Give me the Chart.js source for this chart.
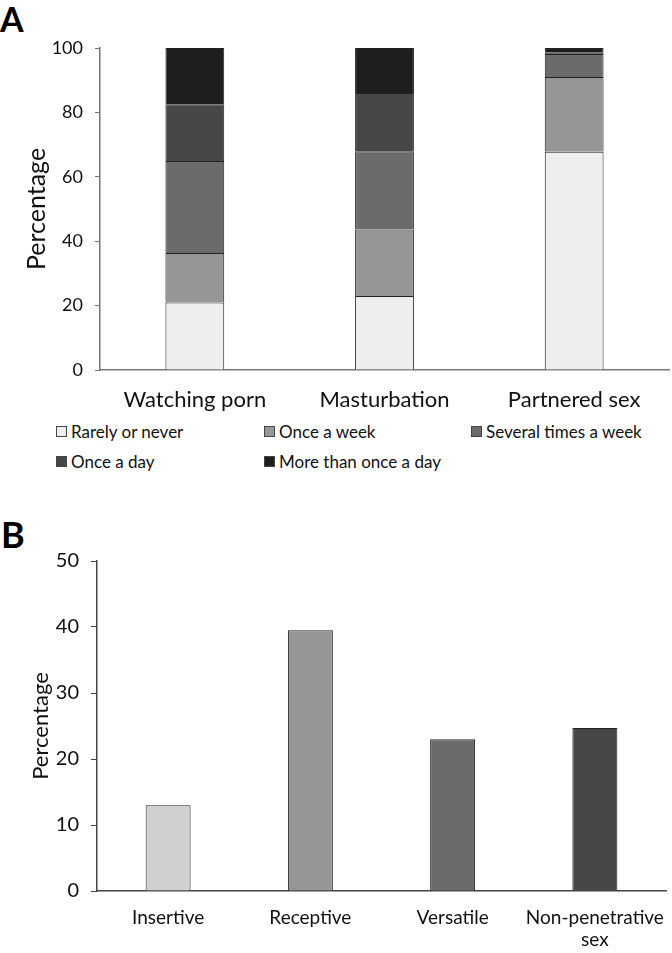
<!DOCTYPE html>
<html>
<head>
<meta charset="utf-8">
<script src="https://cdn.jsdelivr.net/npm/chart.js@4.4.0/dist/chart.umd.min.js"></script>
<style>
  body { margin:0; background:#fff; font-family: Lato, sans-serif; }
  #wrap { position:relative; width:672px; height:953px; }
  .panel { position:absolute; font-weight:bold; color:#000; line-height:1; }
  canvas { position:absolute; left:0; }
  #legendA .leg { position:absolute; font-size:17px; color:#111; display:flex; align-items:center; line-height:1; }
  #legendA .sw { display:inline-block; width:11px; height:11px; border:1px solid #444; margin-right:4px; box-sizing:border-box; }
</style>
</head>
<body>
<div id="wrap">
  <div class="panel" style="left:0;top:2px;font-size:34px;">A</div>
  <canvas id="chartA" width="672" height="420" style="top:0"></canvas>
  <div id="legendA"></div>
  <div class="panel" style="left:1px;top:516px;font-size:36px;">B</div>
  <canvas id="chartB" width="672" height="453" style="top:500px"></canvas>
</div>
<script>
// panel A - frequency of activities (percent)
const activities = ["Watching porn", "Masturbation", "Partnered sex"];
const freqLabels = ["Rarely or never", "Once a week", "Several times a week", "Once a day", "More than once a day"];
const rarely      = [21.0, 23.0, 67.8];
const onceWeek    = [15.3, 20.6, 23.2];
const severalWeek = [28.6, 24.3, 7.1];
const onceDay     = [17.6, 18.1, 0.6];
const moreDay     = [17.5, 14.0, 1.3];
const freqColors  = ["#eeeeee", "#969696", "#6b6b6b", "#474747", "#1e1e1e"];

// panel B - sexual role (percent)
const roles = ["Insertive", "Receptive", "Versatile", ["Non-penetrative", "sex"]];
const rolePct = [13.0, 39.5, 23.0, 24.7];
const roleColors = ["#d0d0d0", "#969696", "#6b6b6b", "#474747"];

Chart.defaults.font.family = "Lato, sans-serif";
Chart.defaults.color = "#111";
Chart.defaults.animation = false;

const seriesA = [rarely, onceWeek, severalWeek, onceDay, moreDay];

// keep the x scale from shrinking the plot for its outer labels
function fixX(h) {
  return s => { s.height = h; s.paddingLeft = 0; s.paddingRight = 0; };
}

const chartA = new Chart(document.getElementById("chartA"), {
  type: "bar",
  data: {
    labels: activities,
    datasets: seriesA.map((d, i) => ({
      label: freqLabels[i],
      data: d,
      backgroundColor: freqColors[i],
      borderColor: "#222",
      borderWidth: { top: 1, left: 1, right: 1, bottom: 0 },
      borderSkipped: false,
      barPercentage: 0.31,
      categoryPercentage: 1,
    })),
  },
  options: {
    responsive: false,
    devicePixelRatio: 1,
    layout: { padding: { top: 48, right: 3, left: 0, bottom: 0 } },
    plugins: { legend: { display: false }, tooltip: { enabled: false } },
    scales: {
      x: {
        stacked: true,
        grid: { display: false, drawTicks: false },
        border: { color: "#777", width: 1.5 },
        ticks: { font: { size: 22 }, color: "#111", padding: 17 },
        afterFit: fixX(50),
      },
      y: {
        stacked: true,
        min: 0, max: 100,
        grid: { drawOnChartArea: false, drawTicks: true, tickLength: 5, color: "#777" },
        border: { color: "#777", width: 1.5 },
        ticks: { stepSize: 20, font: { size: 18 }, color: "#111", padding: 12 },
        title: { display: true, text: "Percentage", font: { size: 25 }, color: "#111", padding: { top: 22, bottom: 0 } },
        afterFit: s => { s.width = 100; },
      },
    },
  },
});

// html legend laid out in the same grid as the reference
const legPos = [[56, 432], [264, 432], [471, 432], [56, 462], [264, 462]];
const legWrap = document.getElementById("legendA");
chartA.data.datasets.forEach((ds, i) => {
  const el = document.createElement("div");
  el.className = "leg";
  el.style.left = legPos[i][0] + "px";
  el.style.top = (legPos[i][1] - 9) + "px";
  el.innerHTML = `<span class="sw" style="background:${ds.backgroundColor}"></span>${ds.label}`;
  legWrap.appendChild(el);
});

new Chart(document.getElementById("chartB"), {
  type: "bar",
  data: {
    labels: roles,
    datasets: [{
      label: "Percentage",
      data: rolePct,
      backgroundColor: roleColors,
      borderColor: "#222",
      borderWidth: { top: 1, left: 1, right: 1, bottom: 0 },
      borderSkipped: false,
      barPercentage: 0.316,
      categoryPercentage: 1,
    }],
  },
  options: {
    responsive: false,
    devicePixelRatio: 1,
    layout: { padding: { top: 61, right: 6, left: 0, bottom: 0 } },
    plugins: { legend: { display: false }, tooltip: { enabled: false } },
    scales: {
      x: {
        grid: { display: false, drawTicks: false },
        border: { color: "#444", width: 1.5 },
        ticks: { font: { size: 19 }, color: "#111", padding: 15, maxRotation: 0, autoSkip: false },
        afterFit: fixX(62),
      },
      y: {
        min: 0, max: 50,
        grid: { drawOnChartArea: false, drawTicks: true, tickLength: 6, color: "#444" },
        border: { color: "#444", width: 1.5 },
        ticks: { stepSize: 10, font: { size: 20 }, color: "#111", padding: 12 },
        title: { display: true, text: "Percentage", font: { size: 22 }, color: "#111", padding: { top: 28, bottom: 0 } },
        afterFit: s => { s.width = 97; },
      },
    },
  },
});
</script>
</body>
</html>
